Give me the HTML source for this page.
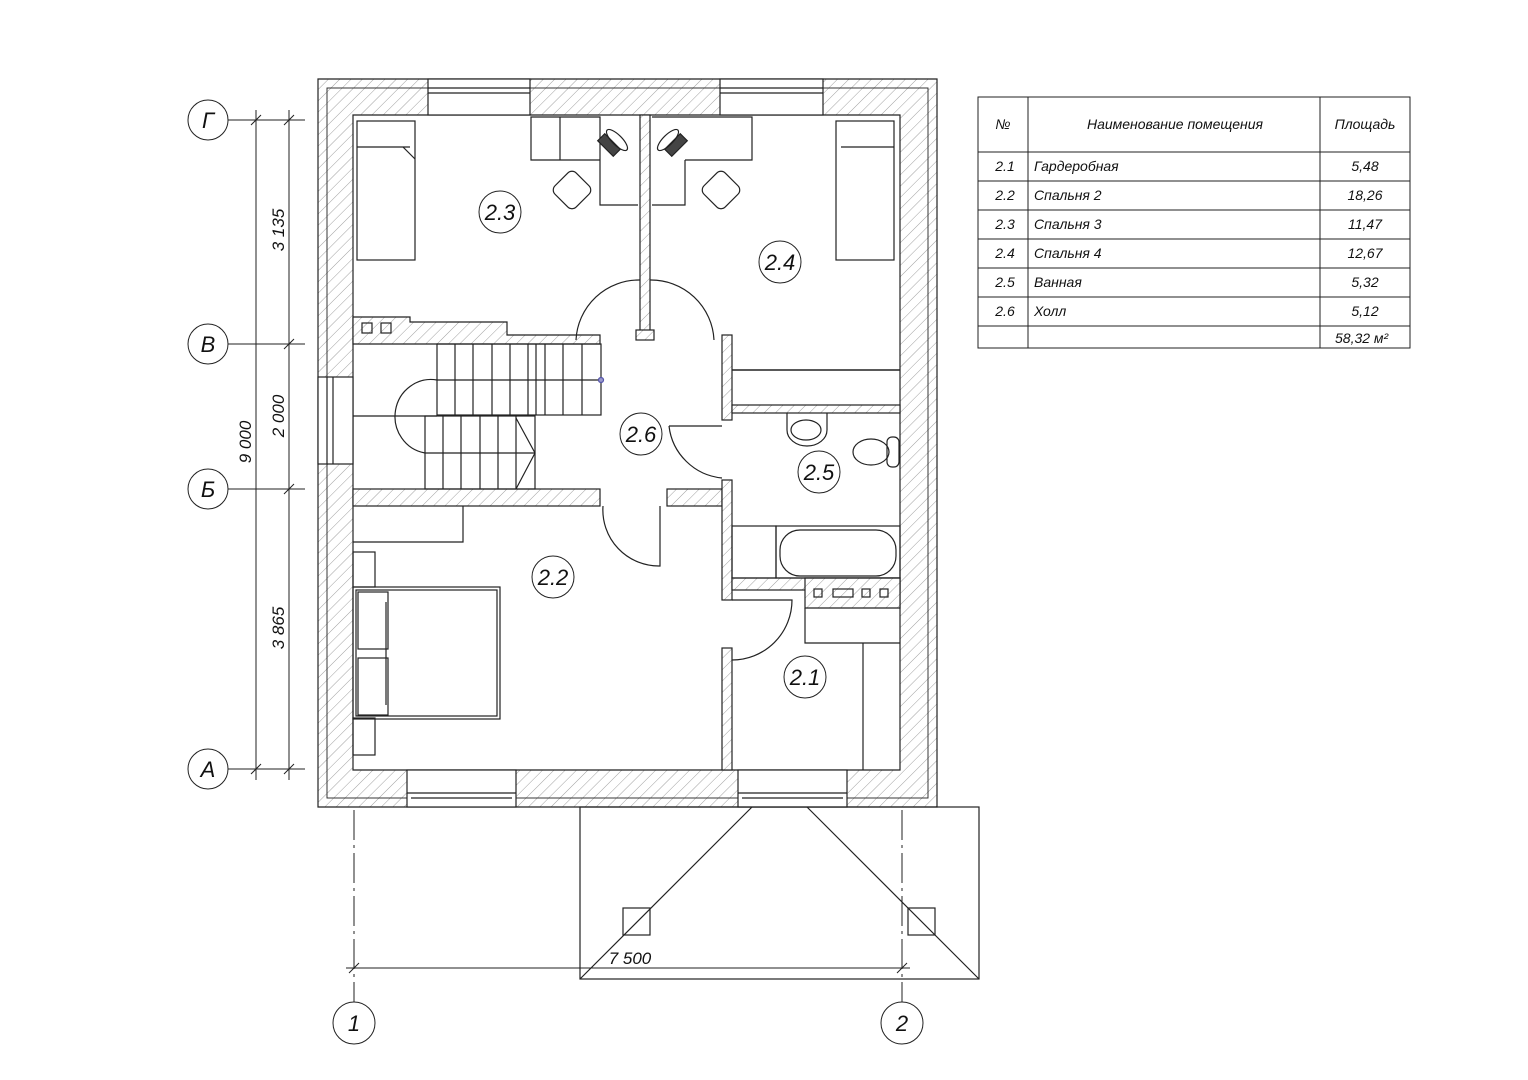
<!DOCTYPE html>
<html><head><meta charset="utf-8"><style>
html,body{margin:0;padding:0;background:#fff;}
svg{display:block;}
text{font-family:"Liberation Sans",sans-serif;font-style:italic;fill:#111;}
</style></head><body>
<svg width="1528" height="1080" viewBox="0 0 1528 1080" xmlns="http://www.w3.org/2000/svg">
<defs>
<pattern id="h" width="8" height="8" patternUnits="userSpaceOnUse" patternTransform="rotate(45)">
<rect width="8" height="8" fill="#fff"/><line x1="0" y1="0" x2="0" y2="8" stroke="#888" stroke-width="0.8"/>
</pattern>
</defs>
<g stroke="#222" stroke-width="1.2" fill="none">
<!-- outer walls hatched -->
<path d="M318,79 H937 V807 H318 Z M353,115 V770 H900 V115 Z" fill="url(#h)" fill-rule="evenodd"/>
<rect x="327" y="88" width="601" height="710" stroke-width="0.9"/>
<!-- windows -->
<rect x="428" y="79" width="102" height="36" fill="#fff"/>
<line x1="428" y1="88" x2="530" y2="88"/><line x1="428" y1="93" x2="530" y2="93"/>
<rect x="720" y="79" width="103" height="36" fill="#fff"/>
<line x1="720" y1="88" x2="823" y2="88"/><line x1="720" y1="93" x2="823" y2="93"/>
<rect x="407" y="770" width="109" height="37" fill="#fff"/>
<line x1="407" y1="793" x2="516" y2="793"/><line x1="411" y1="798" x2="512" y2="798"/>
<rect x="738" y="770" width="109" height="37" fill="#fff"/>
<line x1="738" y1="793" x2="847" y2="793"/><line x1="742" y1="798" x2="843" y2="798"/>
<rect x="318" y="377" width="35" height="87" fill="#fff"/>
<line x1="327" y1="377" x2="327" y2="464"/><line x1="333" y1="377" x2="333" y2="464"/>
<!-- interior walls -->
<path d="M353,317 H410 V322 H507 V335 H600 V344 H353 Z" fill="url(#h)"/>
<rect x="362" y="323" width="10" height="10"/><rect x="381" y="323" width="10" height="10"/>
<rect x="640" y="115" width="10" height="220" fill="url(#h)"/>
<rect x="636" y="330" width="18" height="10" fill="url(#h)"/>
<rect x="353" y="489" width="247" height="17" fill="url(#h)"/>
<rect x="667" y="489" width="55" height="17" fill="url(#h)"/>
<rect x="722" y="335" width="10" height="85" fill="url(#h)"/>
<rect x="722" y="480" width="10" height="120" fill="url(#h)"/>
<rect x="722" y="648" width="10" height="122" fill="url(#h)"/>
<rect x="732" y="405" width="168" height="8" fill="url(#h)"/>
<rect x="732" y="578" width="168" height="12" fill="url(#h)"/>
<path d="M805,578 H900 V608 H805 Z" fill="url(#h)"/>
<rect x="814" y="589" width="8" height="8"/><rect x="833" y="589" width="20" height="8"/><rect x="862" y="589" width="8" height="8"/><rect x="880" y="589" width="8" height="8"/>
<line x1="732" y1="370" x2="900" y2="370" stroke-width="1.6"/>
<!-- doors -->
<path d="M640,280 A63,63 0 0 0 576,340 M650,280 A63,63 0 0 1 714,340"/>
<path d="M669,426 A59,59 0 0 0 722,478"/><line x1="669" y1="426" x2="722" y2="426"/>
<path d="M603,506 A56,56 0 0 0 660,566 V506"/>
<path d="M732,660 A60,60 0 0 0 792,600 H732"/>
<!-- stairs -->
<rect x="437" y="344" width="164" height="71"/>
<line x1="437" y1="380" x2="601" y2="380"/>
<path d="M455,344V415M473,344V415M492,344V415M510,344V415M528,344V415M536,344V415M545,344V415M563,344V415M582,344V415"/>
<rect x="425" y="416" width="110" height="73"/>
<line x1="425" y1="453" x2="535" y2="453"/>
<path d="M443,416V489M461,416V489M480,416V489M498,416V489M516,416V489"/>
<path d="M516,418 L535,453 L516,489"/>
<path d="M437,380 A36,37 0 0 0 425,453"/>
<line x1="353" y1="416" x2="437" y2="416"/>
<circle cx="601" cy="380" r="2.5" stroke="#55a" fill="#99c"/>
<!-- 2.3 bed & desk -->
<rect x="357" y="121" width="58" height="139"/><line x1="357" y1="147" x2="410" y2="147"/>
<path d="M403,147 L415,159"/>
<path d="M531,117 H600 V160 H531 Z M560,117 V160 M600,117 V205 H638"/>
<path d="M652,117 H752 V160 H685 M652,205 H685 V160"/>
<rect x="557" y="175" width="30" height="30" rx="6" transform="rotate(45 572 190)"/>
<rect x="706" y="175" width="30" height="30" rx="6" transform="rotate(-45 721 190)"/>
<rect x="598" y="140" width="22" height="10" fill="#444" transform="rotate(45 609 145)"/>
<rect x="665" y="140" width="22" height="10" fill="#444" transform="rotate(-45 676 145)"/>
<ellipse cx="617" cy="140" rx="14" ry="5" transform="rotate(45 617 140)"/>
<ellipse cx="668" cy="140" rx="14" ry="5" transform="rotate(-45 668 140)"/>
<!-- 2.4 bed -->
<rect x="836" y="121" width="58" height="139"/><line x1="841" y1="147" x2="894" y2="147"/>
<!-- 2.5 fixtures -->
<path d="M787,413 V430 A20,16 0 0 0 827,430 V413"/><ellipse cx="806" cy="430" rx="15" ry="10"/>
<ellipse cx="871" cy="452" rx="18" ry="13"/><rect x="887" y="437" width="12" height="30" rx="5"/>
<rect x="732" y="526" width="44" height="52"/>
<rect x="776" y="526" width="124" height="52"/>
<rect x="780" y="530" width="116" height="46" rx="20"/>
<!-- 2.2 -->
<path d="M353,542 H463 V506"/>
<rect x="353" y="552" width="22" height="35"/><rect x="353" y="718" width="22" height="37"/>
<rect x="353" y="587" width="147" height="132"/><rect x="356" y="590" width="141" height="126"/>
<rect x="358" y="592" width="30" height="57"/><rect x="358" y="658" width="30" height="57"/>
<line x1="386" y1="602" x2="386" y2="705"/>
<!-- 2.1 -->
<path d="M805,608 V643 H900 M863,643 V770"/>
<!-- porch -->
<rect x="580" y="807" width="399" height="172"/>
<path d="M752,807 L580,979 M807,807 L979,979"/>
<rect x="623" y="908" width="27" height="27"/><rect x="908" y="908" width="27" height="27"/>
</g>
<!-- room labels -->
<g stroke="#222" stroke-width="1" fill="#fff">
<circle cx="500" cy="212" r="21"/><circle cx="780" cy="262" r="21"/><circle cx="641" cy="434" r="21"/>
<circle cx="819" cy="472" r="21"/><circle cx="553" cy="577" r="21"/><circle cx="805" cy="677" r="21"/>
</g>
<g font-size="22" text-anchor="middle">
<text x="500" y="220">2.3</text><text x="780" y="270">2.4</text><text x="641" y="442">2.6</text>
<text x="819" y="480">2.5</text><text x="553" y="585">2.2</text><text x="805" y="685">2.1</text>
</g>
<!-- axes -->
<g stroke="#222" stroke-width="1" fill="none">
<circle cx="208" cy="120" r="20"/><circle cx="208" cy="344" r="20"/><circle cx="208" cy="489" r="20"/><circle cx="208" cy="769" r="20"/>
<path d="M228,120H305M228,344H305M228,489H305M228,769H305"/>
<path d="M256,110V780M289,110V780"/>
<path d="M251,125l10,-10M251,774l10,-10M284,125l10,-10M284,349l10,-10M284,494l10,-10M284,774l10,-10"/>
<circle cx="354" cy="1023" r="21"/><circle cx="902" cy="1023" r="21"/>
<path d="M354,810V1002M902,810V1002" stroke-dasharray="30,5,3,5"/>
<path d="M346,968H910"/><path d="M349,973l10,-10M897,973l10,-10"/>
</g>
<g font-size="22" text-anchor="middle">
<text x="208" y="128">Г</text><text x="208" y="352">В</text><text x="208" y="497">Б</text><text x="208" y="777">А</text>
<text x="354" y="1031">1</text><text x="902" y="1031">2</text>
</g>
<g font-size="17" text-anchor="middle">
<text transform="translate(284,230) rotate(-90)">3 135</text>
<text transform="translate(284,416) rotate(-90)">2 000</text>
<text transform="translate(284,628) rotate(-90)">3 865</text>
<text transform="translate(251,442) rotate(-90)">9 000</text>
<text x="630" y="964">7 500</text>
</g>
<!-- table -->
<g stroke="#222" stroke-width="1" fill="none">
<rect x="978" y="97" width="432" height="251"/>
<path d="M978,152H1410M978,181H1410M978,210H1410M978,239H1410M978,268H1410M978,297H1410M978,326H1410"/>
<path d="M1028,97V348M1320,97V348"/>
</g>
<g font-size="14">
<text x="1003" y="129" text-anchor="middle">№</text>
<text x="1175" y="129" text-anchor="middle">Наименование помещения</text>
<text x="1365" y="129" text-anchor="middle">Площадь</text>
<text x="1005" y="171" text-anchor="middle">2.1</text><text x="1034" y="171">Гардеробная</text><text x="1365" y="171" text-anchor="middle">5,48</text>
<text x="1005" y="200" text-anchor="middle">2.2</text><text x="1034" y="200">Спальня 2</text><text x="1365" y="200" text-anchor="middle">18,26</text>
<text x="1005" y="229" text-anchor="middle">2.3</text><text x="1034" y="229">Спальня 3</text><text x="1365" y="229" text-anchor="middle">11,47</text>
<text x="1005" y="258" text-anchor="middle">2.4</text><text x="1034" y="258">Спальня 4</text><text x="1365" y="258" text-anchor="middle">12,67</text>
<text x="1005" y="287" text-anchor="middle">2.5</text><text x="1034" y="287">Ванная</text><text x="1365" y="287" text-anchor="middle">5,32</text>
<text x="1005" y="316" text-anchor="middle">2.6</text><text x="1034" y="316">Холл</text><text x="1365" y="316" text-anchor="middle">5,12</text>
<text x="1335" y="343">58,32 м²</text>
</g>
</svg>
</body></html>
